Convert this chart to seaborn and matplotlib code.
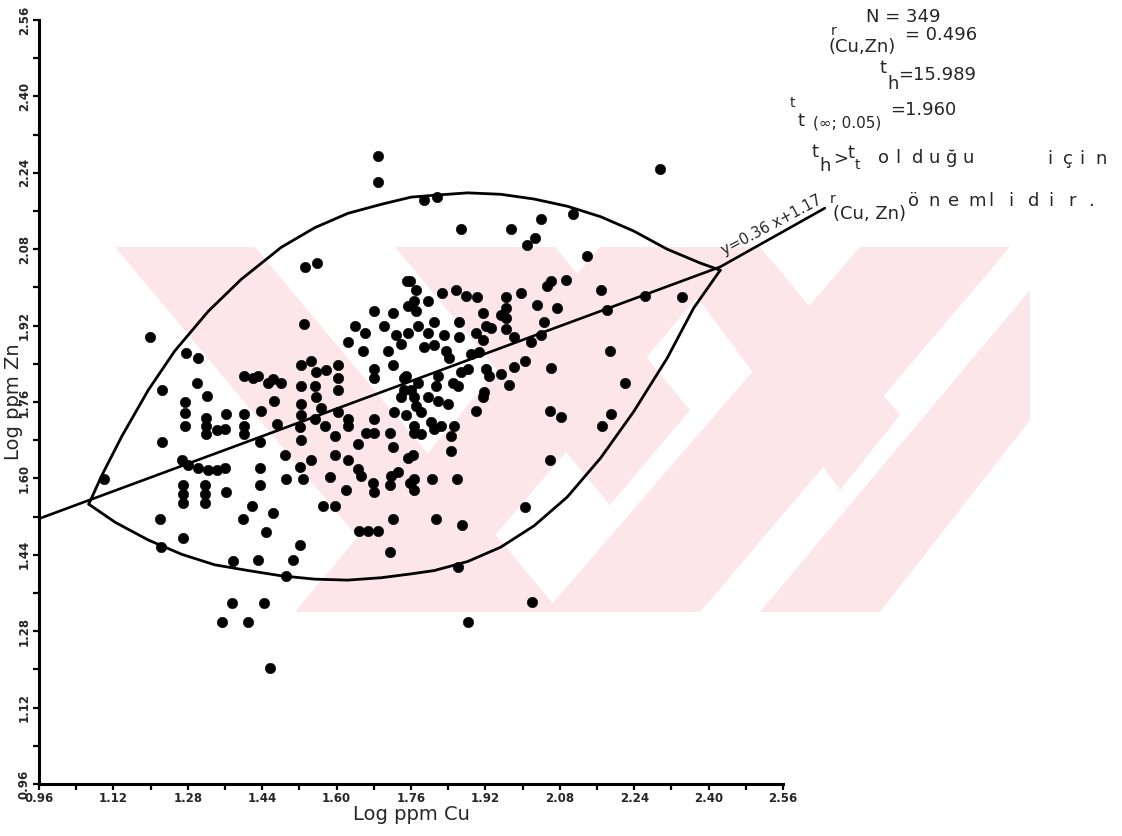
import matplotlib
matplotlib.use("Agg")
import matplotlib.pyplot as plt
from matplotlib.patches import Polygon
import numpy as np
import pandas as pd
import seaborn as sns

# Log ppm Cu / Log ppm Zn of the samples
log_cu = [
    1.689, 1.689, 1.199, 1.533, 1.558, 1.530, 1.752, 1.277, 1.301, 1.224, 1.299, 1.321,
    1.275, 1.275, 1.274, 1.320, 1.320, 1.320, 1.342, 1.363, 1.361, 1.401, 1.401, 1.401,
    1.437, 1.466, 1.471, 1.224, 1.401, 1.431, 1.453, 1.481, 1.420, 1.463,
    1.524, 1.546, 1.556, 1.524, 1.553, 1.578, 1.603, 1.603, 1.603,
    1.523, 1.524, 1.521, 1.523, 1.553, 1.574, 1.596, 1.603, 1.624, 1.624,
    1.488, 1.492, 1.521, 1.528, 1.546, 1.585, 1.596, 1.624, 1.621, 1.571, 1.596,
    1.648, 1.667, 1.689, 1.721, 1.714, 1.646, 1.664, 1.681, 1.681, 1.714, 1.721,
    1.681, 1.681, 1.721, 1.681, 1.721, 1.639, 1.660, 1.624, 1.656, 1.703, 1.728, 1.710, 1.739,
    1.749, 1.746, 1.739, 1.749, 1.724,
    1.646, 1.653, 1.678, 1.681, 1.714, 1.717, 1.731, 1.757,
    1.267, 1.281, 1.303, 1.324, 1.342, 1.360, 1.270, 1.270, 1.270, 1.317, 1.317, 1.317,
    1.363, 1.435, 1.435, 1.099, 1.221, 1.222, 1.270, 1.417, 1.399, 1.463, 1.449,
    1.378, 1.431, 1.492, 1.506, 1.521, 1.374, 1.444, 1.353, 1.410, 1.456,
    1.435, 1.556, 1.567,
    2.295, 1.787, 1.816, 1.867, 1.975, 2.040, 2.109, 2.027, 2.009, 2.138,
    1.757, 1.771, 1.767, 1.771, 1.753, 1.796, 1.826, 1.857, 1.878, 1.902,
    1.753, 1.774, 1.796, 1.810, 1.789, 1.832, 1.864, 1.864, 1.810, 1.835, 1.842,
    1.914, 1.921, 1.899, 1.932, 1.914, 1.964, 1.964, 1.964, 1.964, 1.953, 1.982,
    1.997, 2.032, 2.045, 2.039, 2.017, 2.053, 2.062, 2.093, 2.073, 2.168, 2.181, 2.264, 2.343,
    1.889, 1.907, 1.921, 1.928, 1.867, 1.882,
    1.746, 1.774, 1.760, 1.817, 1.814, 1.850, 1.860,
    1.767, 1.771, 1.796, 1.817, 1.839, 1.781, 1.803, 1.810, 1.824,
    1.767, 1.767, 1.781, 1.853, 1.846, 1.846,
    1.953, 1.971, 1.982, 2.005, 1.917, 1.914, 1.899, 1.753, 1.764,
    1.767, 1.767, 1.806, 1.859,
    2.062, 2.188, 2.221, 2.191, 2.171, 2.058, 2.082, 2.058, 2.005,
    1.814, 1.869, 1.862, 2.020, 1.882,
]
log_zn = [
    2.275, 2.220, 1.896, 2.043, 2.052, 1.923, 2.013, 1.862, 1.852, 1.785, 1.800, 1.772,
    1.759, 1.736, 1.710, 1.727, 1.710, 1.692, 1.701, 1.734, 1.703, 1.734, 1.710, 1.692,
    1.742, 1.763, 1.714, 1.677, 1.815, 1.815, 1.800, 1.800, 1.811, 1.808,
    1.837, 1.845, 1.822, 1.793, 1.793, 1.826, 1.837, 1.811, 1.785,
    1.755, 1.733, 1.707, 1.680, 1.725, 1.710, 1.688, 1.740, 1.725, 1.710,
    1.650, 1.598, 1.624, 1.598, 1.639, 1.602, 1.650, 1.639, 1.575, 1.542, 1.542,
    1.490, 1.490, 1.490, 1.516, 1.445, 1.673, 1.695, 1.695, 1.725, 1.695, 1.665,
    1.830, 1.811, 1.837, 1.950, 1.946, 1.920, 1.905, 1.886, 1.867, 1.920, 1.901, 1.867, 1.882,
    1.815, 1.785, 1.770, 1.733, 1.740,
    1.620, 1.605, 1.591, 1.572, 1.587, 1.605, 1.613, 1.591,
    1.639, 1.628, 1.621, 1.617, 1.617, 1.621, 1.587, 1.568, 1.549, 1.587, 1.568, 1.549,
    1.572, 1.621, 1.587, 1.598, 1.516, 1.456, 1.475, 1.542, 1.514, 1.527, 1.488,
    1.426, 1.430, 1.396, 1.430, 1.460, 1.340, 1.340, 1.299, 1.299, 1.203,
    1.677, 1.770, 1.748,
    2.249, 2.182, 2.189, 2.122, 2.122, 2.144, 2.154, 2.103, 2.088, 2.066,
    2.013, 1.995, 1.972, 1.950, 1.961, 1.972, 1.989, 1.995, 1.983, 1.980,
    1.905, 1.920, 1.905, 1.927, 1.875, 1.901, 1.927, 1.897, 1.879, 1.867, 1.852,
    1.946, 1.920, 1.905, 1.916, 1.890, 1.980, 1.957, 1.935, 1.912, 1.942, 1.897,
    1.989, 1.963, 1.927, 1.901, 1.886, 2.002, 2.013, 2.015, 1.957, 1.995, 1.953, 1.982, 1.980,
    1.860, 1.864, 1.830, 1.815, 1.822, 1.830,
    1.811, 1.800, 1.785, 1.815, 1.793, 1.800, 1.793,
    1.770, 1.751, 1.770, 1.763, 1.755, 1.740, 1.718, 1.703, 1.710,
    1.710, 1.695, 1.692, 1.710, 1.688, 1.658,
    1.819, 1.796, 1.834, 1.845, 1.781, 1.770, 1.742, 1.643, 1.650,
    1.598, 1.576, 1.598, 1.598,
    1.831, 1.867, 1.800, 1.734, 1.710, 1.742, 1.729, 1.638, 1.540,
    1.516, 1.502, 1.415, 1.342, 1.299,
]

# Regression line y = 0.36 x + 1.17, drawn from the axis to the right tip of the envelope
slope = 0.36
intercept = 1.17
line_cu = [0.96, 2.425]
# leader under the equation label
label_lead_cu = [2.425, 2.650]
label_lead_zn = [2.043, 2.166]

# Confidence envelope (upper and lower arcs between the two tips)
upper_cu = [1.067, 1.095, 1.138, 1.195, 1.252, 1.324, 1.395, 1.481, 1.553, 1.624, 1.696,
            1.760, 1.810, 1.882, 1.953, 2.025, 2.096, 2.168, 2.239, 2.311, 2.382, 2.425]
upper_zn = [1.546, 1.606, 1.688, 1.785, 1.867, 1.950, 2.017, 2.084, 2.125, 2.155, 2.174,
            2.189, 2.193, 2.198, 2.195, 2.185, 2.170, 2.148, 2.118, 2.080, 2.051, 2.036]
lower_cu = [1.067, 1.124, 1.195, 1.267, 1.338, 1.410, 1.481, 1.553, 1.624, 1.696, 1.760,
            1.810, 1.882, 1.953, 2.025, 2.096, 2.168, 2.239, 2.311, 2.368, 2.425]
lower_zn = [1.546, 1.508, 1.471, 1.441, 1.419, 1.407, 1.396, 1.389, 1.387, 1.392, 1.400,
            1.407, 1.426, 1.456, 1.501, 1.561, 1.643, 1.740, 1.852, 1.957, 2.036]

tick_values = [0.96, 1.12, 1.28, 1.44, 1.60, 1.76, 1.92, 2.08, 2.24, 2.40, 2.56]
tick_labels = ["0.96", "1.12", "1.28", "1.44", "1.60", "1.76", "1.92", "2.08", "2.24", "2.40", "2.56"]
minor_values = [0.96 + 0.08 * i for i in range(21)]

W, H = 1122, 836
sns.set_theme(style="ticks")
plt.rcParams["font.family"] = ["DejaVu Sans"]

fig = plt.figure(figsize=(W / 100, H / 100), dpi=100)
fig.patch.set_facecolor("white")


def px(x, y):
    return (x / W, 1 - y / H)


# pale red watermark behind the plot
wm_color = "#fde6ea"
wm_shapes = [
    [(115, 247), (255, 247), (560, 612), (420, 612)],
    [(395, 247), (555, 247), (690, 410), (610, 505)],
    [(295, 612), (430, 612), (740, 247), (600, 247)],
    [(545, 612), (700, 612), (1010, 247), (860, 247)],
    [(760, 612), (880, 612), (1030, 420), (1030, 290)],
    [(660, 247), (760, 247), (900, 415), (840, 490)],
]
for shp in wm_shapes:
    fig.patches.append(Polygon([px(*p) for p in shp], closed=True, transform=fig.transFigure,
                               facecolor=wm_color, edgecolor="none", zorder=0))

ax = fig.add_axes([39 / W, 1 - 784 / H, (783 - 39) / W, (784 - 20) / H])
ax.set_facecolor("none")
ax.set_zorder(2)

df = pd.DataFrame({"Log ppm Cu": log_cu, "Log ppm Zn": log_zn})
sns.scatterplot(data=df, x="Log ppm Cu", y="Log ppm Zn", ax=ax, color="black",
                s=56, edgecolor="black", linewidth=0.4, zorder=3)

lx = np.array(line_cu)
ax.plot(lx, slope * lx + intercept, color="black", lw=1.9, zorder=4)
ax.plot(label_lead_cu, label_lead_zn, color="black", lw=1.9, clip_on=False, zorder=4)
ax.plot(upper_cu, upper_zn, color="black", lw=2.0, zorder=4, solid_capstyle="round")
ax.plot(lower_cu, lower_zn, color="black", lw=2.0, zorder=4, solid_capstyle="round")

ax.set_xlim(0.96, 2.56)
ax.set_ylim(0.96, 2.56)
ax.set_xticks(minor_values, minor=True)
ax.set_yticks(minor_values, minor=True)
ax.set_xticks(tick_values)
ax.set_yticks(tick_values)
ax.set_xticklabels(tick_labels, fontsize=8.5, fontweight="bold")
ax.set_yticklabels(tick_labels, fontsize=8.5, fontweight="bold", rotation=90, va="center")
ax.tick_params(axis="both", which="both", direction="out", length=4, width=1.6, color="black", pad=2)
sns.despine(ax=ax)
for side in ("left", "bottom"):
    ax.spines[side].set_linewidth(2.2)
    ax.spines[side].set_color("black")
ax.set_xlabel("Log ppm Cu", fontsize=14, labelpad=0)
ax.set_ylabel("Log ppm Zn", fontsize=14, labelpad=-4)

# equation written along the leader
ax.text(2.437, 2.062, "y=0.36 x+1.17", rotation=28, fontsize=10.5,
        ha="left", va="bottom", rotation_mode="anchor", clip_on=False)

# statistics block
fs = 13
sfs = 10


def put(x, y, s, size=fs):
    fig.text(*px(x, y), s, fontsize=size, va="center", ha="left")


def spaced(x0, step, y, s, size=fs):
    for i, ch in enumerate(s):
        put(x0 + i * step, y, ch, size)


put(866, 17, "N = 349")
put(831, 31, "r", sfs)
put(828, 47, "(Cu,Zn)")
put(905, 35, "= 0.496")
put(880, 68, "t")
put(887, 84, "h")
put(898, 75, "=15.989")
put(790, 103, "t", sfs)
put(797, 121, "t")
put(813, 123, "(\u221e; 0.05)", sfs + 1)
put(890, 110, "=1.960")
put(812, 152, "t")
put(819, 166, "h")
put(833, 159, ">")
put(847, 153, "t")
put(855, 165, "t", sfs)
spaced(878, 17, 158, "olduğu")
spaced(1047, 16, 159, "için")
put(830, 199, "r", sfs)
put(833, 214, "(Cu, Zn)")
spaced(908, 20, 201, "önemlidir.")

fig.savefig("out.png", dpi=100, facecolor="white")
